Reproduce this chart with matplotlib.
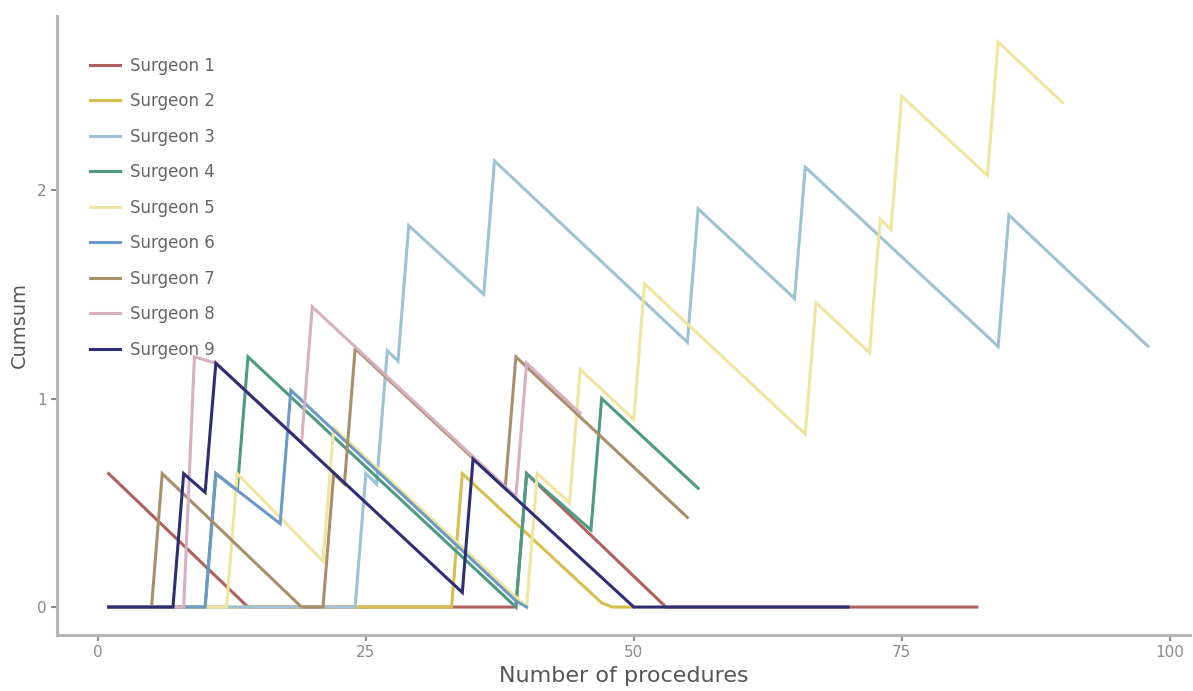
import matplotlib
matplotlib.use("Agg")
import matplotlib.pyplot as plt

surgeons = ["Surgeon 1", "Surgeon 2", "Surgeon 3", "Surgeon 4", "Surgeon 5",
            "Surgeon 6", "Surgeon 7", "Surgeon 8", "Surgeon 9"]
colors = ["#B0605A", "#D8BE50", "#9DC3D4", "#4F9A85", "#F0E5A0",
          "#6A9AC5", "#A88F6A", "#D9AFC2", "#2E2E75"]

s1_x = [1, 14, 39, 40, 53, 82]
s1_y = [0.64, 0, 0, 0.64, 0, 0]
s2_x = [1, 33, 34, 47, 48, 50]
s2_y = [0, 0, 0.64, 0.02, 0, 0]
s3_x = [1, 24, 25, 26, 27, 28, 29, 36, 37, 55, 56, 65, 66, 84, 85, 98]
s3_y = [0, 0, 0.64, 0.59, 1.23, 1.18, 1.83, 1.50, 2.14, 1.27, 1.91, 1.48, 2.11, 1.25, 1.88, 1.25]
s4_x = [1, 10, 11, 13, 14, 39, 40, 46, 47, 56]
s4_y = [0, 0, 0.64, 0.56, 1.20, 0, 0.64, 0.37, 1.00, 0.57]
s5_x = [1, 12, 13, 21, 22, 40, 41, 44, 45, 50, 51, 66, 67, 72, 73, 74, 75, 83, 84, 90]
s5_y = [0, 0, 0.64, 0.22, 0.86, 0, 0.64, 0.50, 1.14, 0.90, 1.55, 0.83, 1.46, 1.22, 1.86, 1.81, 2.45, 2.07, 2.71, 2.42]
s6_x = [1, 10, 11, 17, 18, 39, 40]
s6_y = [0, 0, 0.64, 0.40, 1.04, 0.03, 0]
s7_x = [1, 5, 6, 19, 21, 22, 23, 24, 38, 39, 55]
s7_y = [0, 0, 0.64, 0, 0, 0.64, 0.59, 1.24, 0.57, 1.20, 0.43]
s8_x = [1, 8, 9, 11, 19, 20, 39, 40, 45]
s8_y = [0, 0, 1.20, 1.17, 0.79, 1.44, 0.53, 1.17, 0.93]
s9_x = [1, 7, 8, 10, 11, 34, 35, 50, 70]
s9_y = [0, 0, 0.64, 0.55, 1.17, 0.07, 0.71, 0, 0]

series_x = [s1_x, s2_x, s3_x, s4_x, s5_x, s6_x, s7_x, s8_x, s9_x]
series_y = [s1_y, s2_y, s3_y, s4_y, s5_y, s6_y, s7_y, s8_y, s9_y]

x_ticks = [0, 25, 50, 75, 100]
y_ticks = [0, 1, 2]

fig = plt.figure(figsize=(11.93, 6.91), dpi=100)
ax = fig.add_axes([57 / 1193, 1 - 635 / 691, (1190 - 57) / 1193, (635 - 16) / 691])

for name, xs, ys, c in zip(surgeons, series_x, series_y, colors):
    ax.plot(xs, ys, color=c, lw=2.2, label=name, solid_joinstyle="miter")

ax.set_xlim(-3.82, 101.9)
ax.set_ylim(-0.134, 2.835)
ax.set_xticks(x_ticks)
ax.set_yticks(y_ticks)
ax.set_xticklabels([str(t) for t in x_ticks])
ax.set_yticklabels([str(t) for t in y_ticks])

for side in ["top", "right"]:
    ax.spines[side].set_visible(False)
for side in ["left", "bottom"]:
    ax.spines[side].set_color("#B5B5B5")
    ax.spines[side].set_linewidth(2.2)

ax.tick_params(axis="both", colors="#8A8A8A", labelcolor="#8A8A8A", labelsize=11,
               length=4, width=1.5)
ax.set_xlabel("Number of procedures", fontsize=16, color="#555555", labelpad=4)
ax.set_ylabel("Cumsum", fontsize=14, color="#555555", labelpad=6)

leg = ax.legend(loc="upper left", bbox_to_anchor=(26 / 1133, 1 - 34 / 619),
                frameon=False, fontsize=12, handlelength=1.8, labelspacing=1.05,
                handletextpad=0.6, borderaxespad=0)
for t in leg.get_texts():
    t.set_color("#666666")

fig.savefig("out.png", dpi=100)
